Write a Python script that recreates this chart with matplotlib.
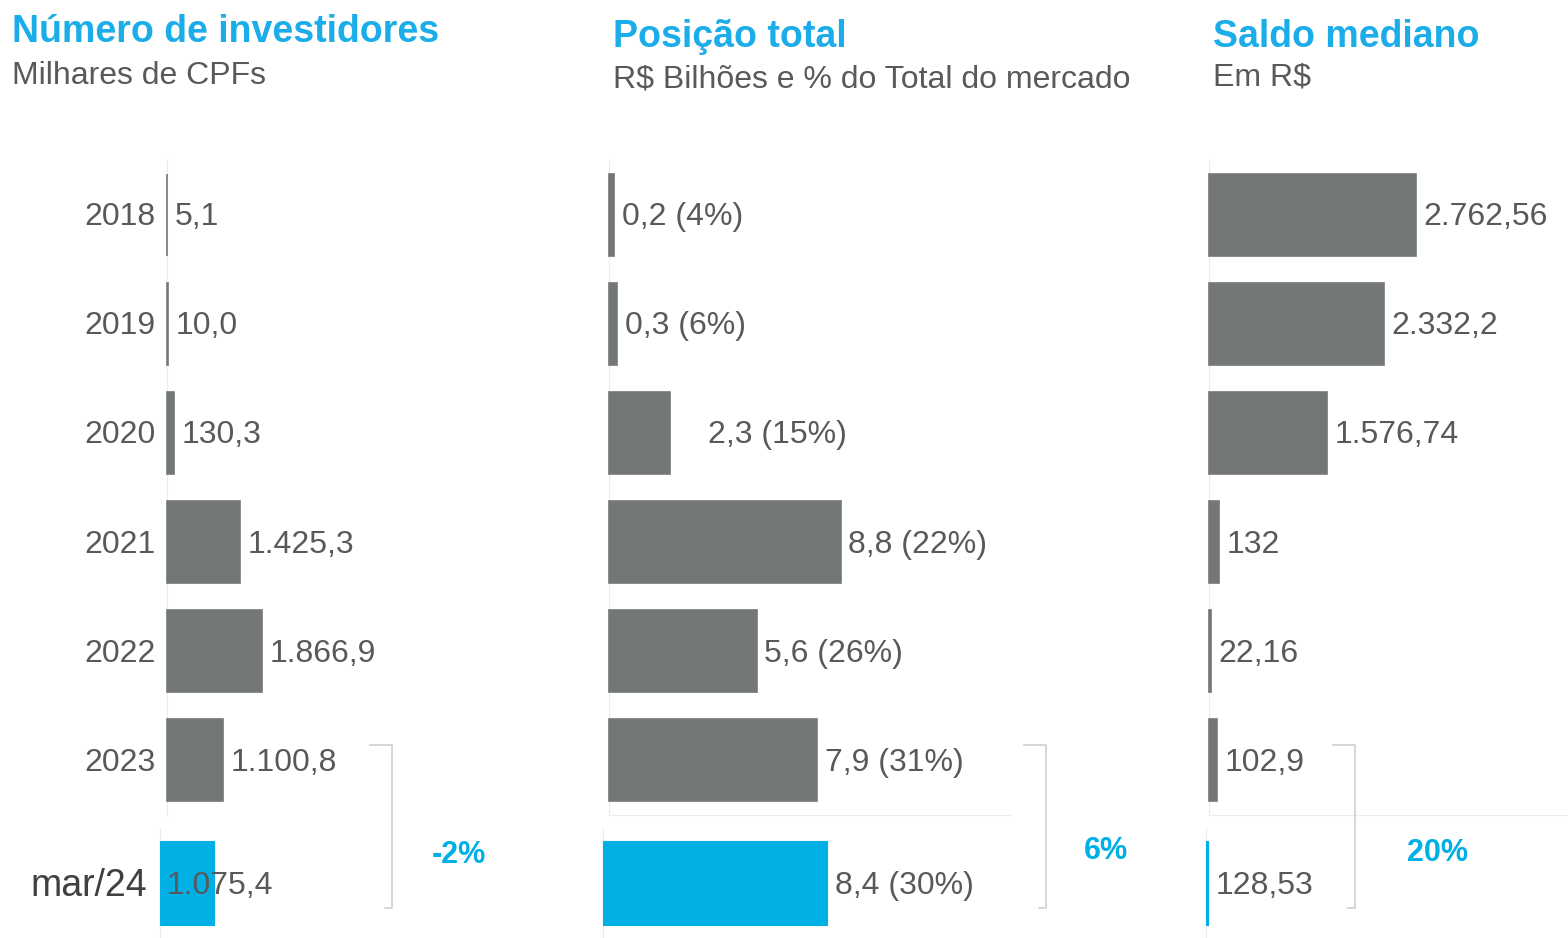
import matplotlib
matplotlib.use('Agg')
import matplotlib.pyplot as plt
from matplotlib.lines import Line2D

plt.rcParams['font.family'] = ['Liberation Sans', 'DejaVu Sans']

# dados
anos = ['2018', '2019', '2020', '2021', '2022', '2023']
periodo_atual = 'mar/24'

investidores = [5.1, 10.0, 130.3, 1425.3, 1866.9, 1100.8]
investidores_atual = 1075.4
investidores_txt = ['5,1', '10,0', '130,3', '1.425,3', '1.866,9', '1.100,8']
investidores_atual_txt = '1.075,4'
investidores_var = '-2%'

posicao = [0.2, 0.3, 2.3, 8.8, 5.6, 7.9]
posicao_atual = 8.4
posicao_txt = ['0,2 (4%)', '0,3 (6%)', '2,3 (15%)', '8,8 (22%)', '5,6 (26%)', '7,9 (31%)']
posicao_atual_txt = '8,4 (30%)'
posicao_var = '6%'

saldo = [2762.56, 2332.2, 1576.74, 132, 22.16, 102.9]
saldo_atual = 128.53
saldo_txt = ['2.762,56', '2.332,2', '1.576,74', '132', '22,16', '102,9']
saldo_atual_txt = '128,53'
saldo_var = '20%'

titulos = ['Número de investidores', 'Posição total', 'Saldo mediano']
subtitulos = ['Milhares de CPFs', 'R$ Bilhões e % do Total do mercado', 'Em R$']

CINZA = '#737877'
AZUL = '#00B0E4'
TEXTO = '#595959'
LINHA = '#ececec'

W, H = 1568, 938
fig = plt.figure(figsize=(W / 100, H / 100), dpi=100)


def eixo(left, top, width, bottom):
    """cria axes a partir de coordenadas em pixels"""
    return fig.add_axes([left / W, 1 - bottom / H, width / W, (bottom - top) / H])


def limpar(ax, bottom_spine=False):
    ax.set_xticks([])
    ax.set_yticks([])
    for s in ['top', 'right']:
        ax.spines[s].set_visible(False)
    ax.spines['left'].set_color(LINHA)
    ax.spines['bottom'].set_color(LINHA)
    ax.spines['bottom'].set_visible(bottom_spine)
    ax.patch.set_alpha(0)


# posição (px) e escala de cada painel
paineis = [
    dict(vals=investidores, atual=investidores_atual, txt=investidores_txt,
         atual_txt=investidores_atual_txt, var=investidores_var,
         lt=167, lb=160, w=393, xt=7690, xb=7800, bspine=False,
         tx=12, ty=(42, 84), brx=392, varx=459, vary=855),
    dict(vals=posicao, atual=posicao_atual, txt=posicao_txt,
         atual_txt=posicao_atual_txt, var=posicao_var,
         lt=609, lb=603, w=401, xt=15.22, xb=15.04, bspine=True,
         tx=613, ty=(47, 88), brx=1046, varx=1106, vary=851),
    dict(vals=saldo, atual=saldo_atual, txt=saldo_txt,
         atual_txt=saldo_atual_txt, var=saldo_var,
         lt=1209, lb=1206, w=359, xt=4793, xb=20000, bspine=True,
         tx=1213, ty=(47, 86), brx=1355, varx=1437, vary=853),
]

# deslocamentos especiais dos rótulos (em pontos)
ajuste_rotulo = {(1, 2): 22}
DY = -1.8

ypos = list(range(len(anos)))

for i, p in enumerate(paineis):
    # barras dos anos
    ax = eixo(p['lt'], 160, p['w'], 815)
    ax.barh(ypos, p['vals'], height=0.75, color=CINZA, edgecolor=CINZA,
            linewidth=1.2, clip_on=False, zorder=3)
    ax.set_ylim(len(anos) - 0.5, -0.5)
    ax.set_xlim(0, p['xt'])
    limpar(ax, p['bspine'])
    for j, (v, t) in enumerate(zip(p['vals'], p['txt'])):
        off = 5.5 + ajuste_rotulo.get((i, j), 0)
        ax.annotate(t, (v, j), xytext=(off, DY), textcoords='offset points',
                    va='center', ha='left', fontsize=23, color=TEXTO)
    if i == 0:
        for j, a in enumerate(anos):
            ax.annotate(a, (0, j), xytext=(-8, DY), textcoords='offset points',
                        va='center', ha='right', fontsize=23, color=TEXTO)

    # barra do período atual
    axb = eixo(p['lb'], 828, p['w'], 938)
    axb.barh([0], [p['atual']], height=0.77, color=AZUL, edgecolor=AZUL,
             linewidth=0.8, clip_on=False, zorder=3)
    axb.set_ylim(0.5, -0.5)
    axb.set_xlim(0, p['xb'])
    limpar(axb)
    if i == 0:
        axb.annotate(p['atual_txt'], (0, 0), xytext=(5, DY), textcoords='offset points',
                     va='center', ha='left', fontsize=23, color=TEXTO, zorder=4)
        axb.annotate(periodo_atual, (0, 0), xytext=(-9, DY), textcoords='offset points',
                     va='center', ha='right', fontsize=27, color='#404040')
    else:
        axb.annotate(p['atual_txt'], (p['atual'], 0), xytext=(5.5, DY), textcoords='offset points',
                     va='center', ha='left', fontsize=23, color=TEXTO)

    # colchete da variação
    x = p['brx'] / W
    y0, y1 = 1 - 745 / H, 1 - 908 / H
    fig.add_artist(Line2D([x - 22 / W, x, x, x - 7 / W], [y0, y0, y1, y1],
                          color='#cfcfcf', lw=1.2))
    fig.text(p['varx'] / W, 1 - p['vary'] / H, p['var'], ha='center', va='center',
             fontsize=22, fontweight='bold', color=AZUL)

    # títulos
    fig.text(p['tx'] / W, 1 - p['ty'][0] / H, titulos[i], ha='left', va='baseline',
             fontsize=27, fontweight='bold', color='#1AADEA')
    fig.text(p['tx'] / W, 1 - p['ty'][1] / H, subtitulos[i], ha='left', va='baseline',
             fontsize=23, color=TEXTO)

fig.savefig('out.png', dpi=100)
